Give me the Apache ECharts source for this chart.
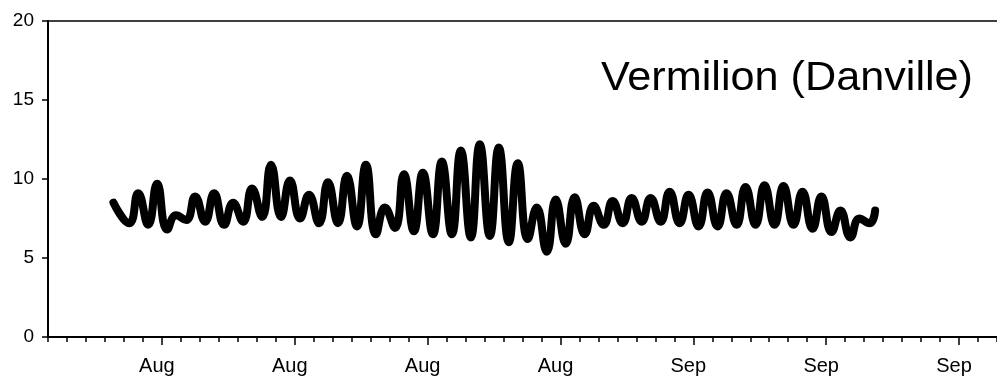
<!DOCTYPE html>
<html>
<head>
<meta charset="utf-8">
<script src="https://cdn.jsdelivr.net/npm/echarts@6/dist/echarts.min.js"></script>
<style>
  html, body { margin: 0; padding: 0; background: #fff; }
  #chart { width: 997px; height: 381px; }
</style>
</head>
<body>
<div id="chart"></div>
<script>
// Days are counted from 31 July; the logger ran from 3 Aug to 12 Sep.
const axisDays = [0, 50];
const tickDays = [6, 13, 20, 27, 34, 41, 48];
const tickLabels = ['Aug', 'Aug', 'Aug', 'Aug', 'Sep', 'Sep', 'Sep'];

// Daily dissolved-oxygen extremes (mg/L): early-morning minimum and late-afternoon maximum.
const firstDay = 4;
const dailyMin = [7.2, 7.1, 6.8, 7.4, 7.3, 7.1, 7.3, 7.6, 7.6, 7.5,
                  7.2, 7.2, 7.0, 6.5, 6.9, 6.7, 6.5, 6.5, 6.3, 6.4,
                  6.0, 6.2, 5.4, 5.9, 6.5, 7.1, 7.2, 7.3, 7.3, 7.2,
                  7.0, 7.0, 7.1, 7.1, 7.1, 7.1, 6.85, 6.65, 6.3, 7.2];
const dailyMax = [9.1, 9.7, 7.7, 8.9, 9.1, 8.5, 9.4, 10.9, 9.9, 9.0,
                  9.8, 10.2, 10.9, 8.2, 10.3, 10.4, 11.1, 11.8, 12.2, 12.0,
                  11.0, 8.2, 8.7, 8.85, 8.3, 8.6, 8.8, 8.8, 9.2, 9.0,
                  9.15, 9.1, 9.5, 9.6, 9.55, 9.2, 8.9, 8.0, 7.5];
const minHour = 0.28;   // fraction of the day at the daily minimum
const maxHour = 0.75;   // fraction of the day at the daily maximum
const firstReading = [3.45, 8.5];
const lastReading = [43.58, 8.0];

const yTicks = [0, 5, 10, 15, 20];

// Build the record as alternating minima and maxima.
const record = [firstReading];
for (let i = 0; i < dailyMin.length; i++) {
  const d = firstDay + i;
  record.push([d + minHour, dailyMin[i]]);
  if (i < dailyMax.length) record.push([d + maxHour, dailyMax[i]]);
}
record.push(lastReading);

const font = '"Liberation Sans", Arial, sans-serif';
const chart = echarts.init(document.getElementById('chart'), null, { renderer: 'canvas' });

chart.setOption({
  animation: false,
  backgroundColor: '#fff',
  grid: { left: 48, right: 0, top: 21, bottom: 44, containLabel: false },
  xAxis: [
    {
      type: 'value', min: axisDays[0], max: axisDays[1], position: 'bottom',
      axisLine: { show: true, lineStyle: { color: '#000', width: 2 } },
      axisTick: { show: true, customValues: tickDays, length: 8, lineStyle: { color: '#000', width: 1.5 } },
      axisLabel: {
        show: true, customValues: tickDays, margin: 19, color: '#000',
        fontSize: 20, fontFamily: font, padding: [0, 10, 0, 0],
        formatter: v => tickLabels[tickDays.indexOf(v)] || ''
      },
      splitLine: { show: false }
    },
    {
      type: 'value', min: axisDays[0], max: axisDays[1], interval: 1, position: 'bottom',
      axisLine: { show: false },
      axisTick: { show: true, length: 5, lineStyle: { color: '#000', width: 1.5 } },
      axisLabel: { show: false },
      splitLine: { show: false }
    },
    {
      type: 'value', min: axisDays[0], max: axisDays[1], position: 'top',
      axisLine: { show: true, lineStyle: { color: '#000', width: 1.5 } },
      axisTick: { show: false },
      axisLabel: { show: false },
      splitLine: { show: false }
    }
  ],
  yAxis: {
    type: 'value', min: yTicks[0], max: yTicks[yTicks.length - 1], interval: 5,
    axisLine: { show: true, lineStyle: { color: '#000', width: 2 } },
    axisTick: { show: true, inside: false, length: 6, lineStyle: { color: '#000', width: 1.5 } },
    axisLabel: { color: '#000', fontSize: 19, fontFamily: font, margin: 14 },
    splitLine: { show: false }
  },
  graphic: [
    {
      type: 'text', x: 973, y: 79, scaleX: 1.08,
      style: {
        text: 'Vermilion (Danville)', fill: '#000',
        fontSize: 40, fontFamily: font,
        align: 'right', verticalAlign: 'middle'
      }
    }
  ],
  series: [
    {
      type: 'line',
      xAxisIndex: 0,
      data: record,
      smooth: 0.5,
      showSymbol: false,
      symbol: 'none',
      lineStyle: { color: '#000', width: 8, cap: 'round', join: 'round' }
    }
  ]
});
</script>
</body>
</html>
